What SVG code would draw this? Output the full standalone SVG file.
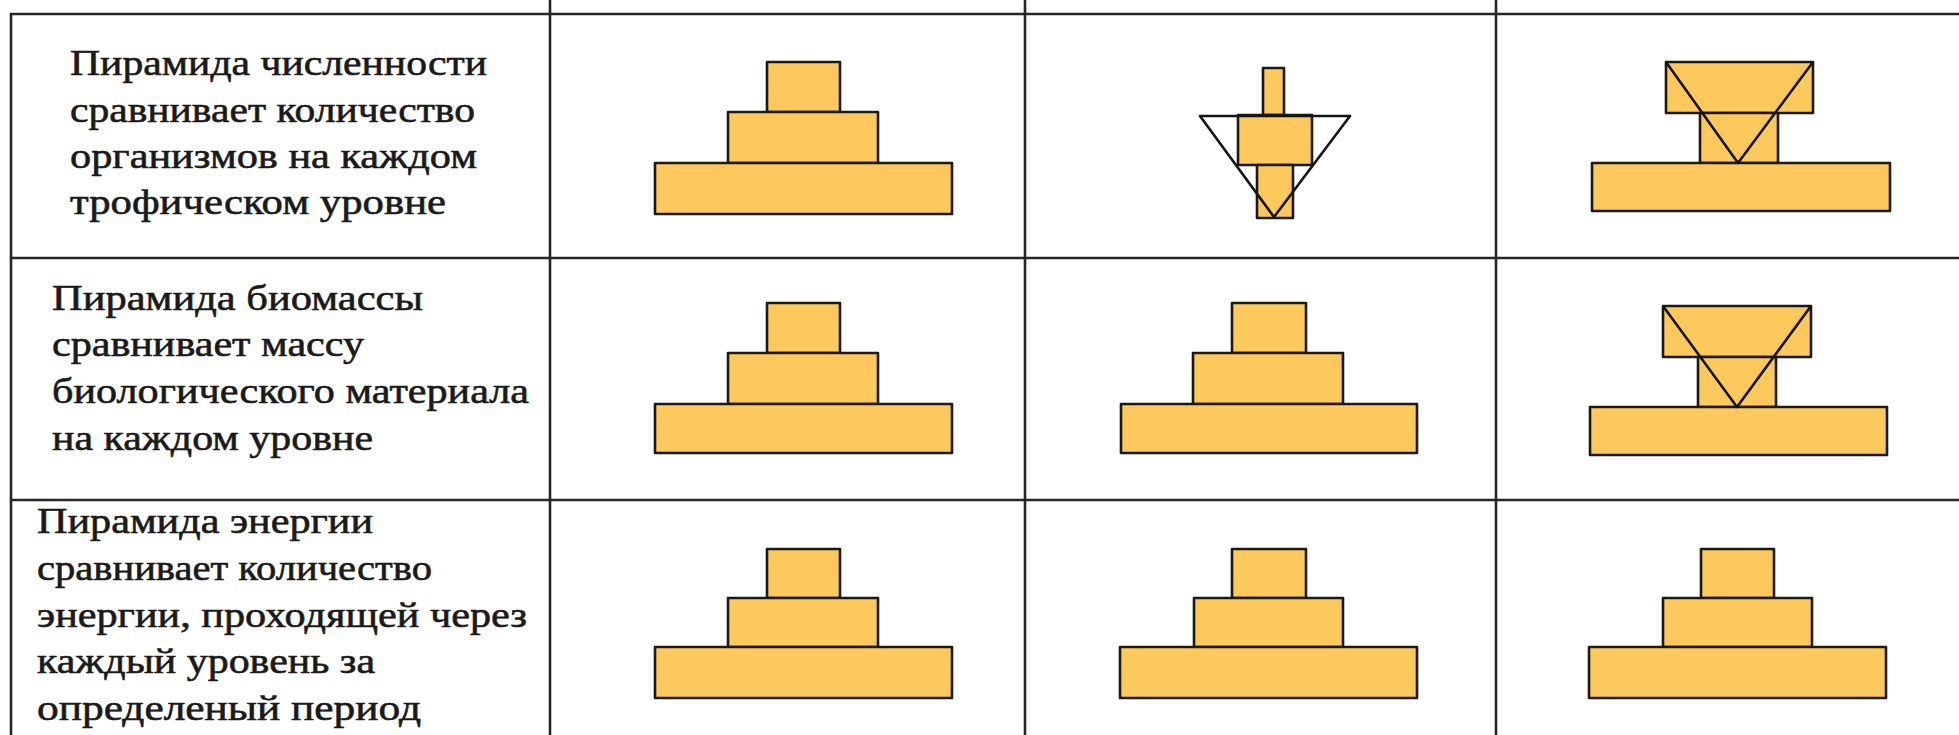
<svg xmlns="http://www.w3.org/2000/svg" width="1959" height="735" viewBox="0 0 1959 735">
<style>
.grid line{stroke:#262626;stroke-width:2.6}
.blk{fill:#FDC95D;stroke:#1c1a16;stroke-width:2.6;stroke-linejoin:round}
.tri{fill:none;stroke:#141414;stroke-width:2.6;stroke-linejoin:round}
.t{font-family:"Liberation Serif","Times New Roman",serif;font-size:36px;fill:#1a1a1a;stroke:#1a1a1a;stroke-width:0.6}
</style>
<rect x="0" y="0" width="1959" height="735" fill="#ffffff"/>
<g id="grid" class="grid">
<line x1="10" y1="14" x2="1959" y2="14"/>
<line x1="10" y1="258" x2="1959" y2="258"/>
<line x1="10" y1="500" x2="1959" y2="500"/>
<line x1="11" y1="13" x2="11" y2="735"/>
<line x1="550" y1="0" x2="550" y2="735"/>
<line x1="1025" y1="0" x2="1025" y2="735"/>
<line x1="1496" y1="0" x2="1496" y2="735"/>
</g>
<g id="label-numbers" class="t">
<text x="70" y="75" textLength="417" lengthAdjust="spacingAndGlyphs">Пирамида численности</text>
<text x="70" y="122" textLength="405" lengthAdjust="spacingAndGlyphs">сравнивает количество</text>
<text x="70" y="168" textLength="407" lengthAdjust="spacingAndGlyphs">организмов на каждом</text>
<text x="70" y="214" textLength="376" lengthAdjust="spacingAndGlyphs">трофическом уровне</text>
</g>
<g id="label-biomass" class="t">
<text x="52" y="310" textLength="371" lengthAdjust="spacingAndGlyphs">Пирамида биомассы</text>
<text x="52" y="356" textLength="312" lengthAdjust="spacingAndGlyphs">сравнивает массу</text>
<text x="52" y="403" textLength="477" lengthAdjust="spacingAndGlyphs">биологического материала</text>
<text x="52" y="450" textLength="321" lengthAdjust="spacingAndGlyphs">на каждом уровне</text>
</g>
<g id="label-energy" class="t">
<text x="37" y="533" textLength="336" lengthAdjust="spacingAndGlyphs">Пирамида энергии</text>
<text x="37" y="580" textLength="395" lengthAdjust="spacingAndGlyphs">сравнивает количество</text>
<text x="37" y="627" textLength="490" lengthAdjust="spacingAndGlyphs">энергии, проходящей через</text>
<text x="37" y="673" textLength="338" lengthAdjust="spacingAndGlyphs">каждый уровень за</text>
<text x="37" y="720" textLength="384" lengthAdjust="spacingAndGlyphs">определеный период</text>
</g>
<g id="pyr-r1-c2">
<rect class="blk" x="767" y="62" width="73" height="50"/>
<rect class="blk" x="728" y="112" width="150" height="51"/>
<rect class="blk" x="655" y="163" width="297" height="51"/>
</g>
<g id="pyr-r1-c3">
<rect class="blk" x="1263" y="68" width="21" height="47"/>
<rect class="blk" x="1238" y="115" width="74" height="50"/>
<rect class="blk" x="1257" y="165" width="36" height="53"/>
<polygon class="tri" points="1200,116 1350,116 1274,217"/>
</g>
<g id="pyr-r1-c4">
<rect class="blk" x="1666" y="62" width="147" height="51"/>
<rect class="blk" x="1700" y="113" width="78" height="50"/>
<rect class="blk" x="1592" y="163" width="298" height="48"/>
<polyline class="tri" points="1666,62 1738,163 1813,62"/>
</g>
<g id="pyr-r2-c2">
<rect class="blk" x="767" y="303" width="73" height="50"/>
<rect class="blk" x="728" y="353" width="150" height="51"/>
<rect class="blk" x="655" y="404" width="297" height="49"/>
</g>
<g id="pyr-r2-c3">
<rect class="blk" x="1232" y="303" width="74" height="50"/>
<rect class="blk" x="1193" y="353" width="150" height="51"/>
<rect class="blk" x="1121" y="404" width="296" height="49"/>
</g>
<g id="pyr-r2-c4">
<rect class="blk" x="1663" y="306" width="148" height="51"/>
<rect class="blk" x="1698" y="357" width="78" height="50"/>
<rect class="blk" x="1590" y="407" width="297" height="48"/>
<polyline class="tri" points="1663,306 1737,407 1811,306"/>
</g>
<g id="pyr-r3-c2">
<rect class="blk" x="767" y="549" width="73" height="49"/>
<rect class="blk" x="728" y="598" width="150" height="49"/>
<rect class="blk" x="655" y="647" width="297" height="51"/>
</g>
<g id="pyr-r3-c3">
<rect class="blk" x="1232" y="549" width="74" height="49"/>
<rect class="blk" x="1194" y="598" width="149" height="49"/>
<rect class="blk" x="1120" y="647" width="297" height="51"/>
</g>
<g id="pyr-r3-c4">
<rect class="blk" x="1701" y="549" width="73" height="49"/>
<rect class="blk" x="1663" y="598" width="149" height="49"/>
<rect class="blk" x="1589" y="647" width="297" height="51"/>
</g>
</svg>
